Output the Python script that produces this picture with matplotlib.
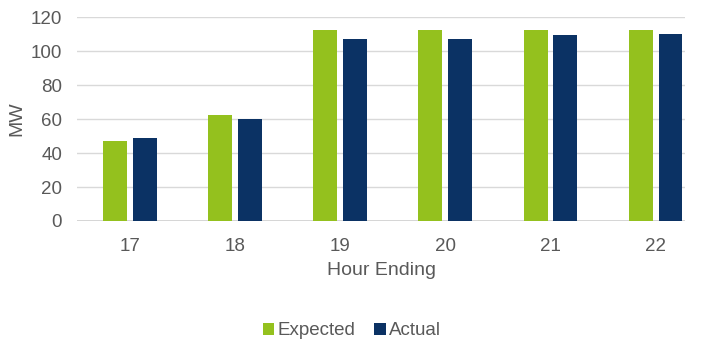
import matplotlib
matplotlib.use("Agg")
import matplotlib.pyplot as plt
import numpy as np

hours = ["17", "18", "19", "20", "21", "22"]
expected = [47, 62.5, 112.5, 112.5, 112.5, 112.5]
actual = [49, 60, 107, 107, 109.5, 110.3]
yticks = [0, 20, 40, 60, 80, 100, 120]

plt.rcParams['font.family'] = ['Liberation Sans', 'DejaVu Sans']
gray = '#595959'

fig = plt.figure(figsize=(7.04, 3.43), dpi=100)
ax = fig.add_axes([0.110, 0.3557, 0.863, 0.5939])

x = np.arange(len(hours))
w = 0.228
off = 0.142
ax.bar(x - off, expected, width=w, color='#94C11E', label='Expected', zorder=3)
ax.bar(x + off, actual, width=w, color='#0B3264', label='Actual', zorder=3)

ax.set_xlim(-0.5, 5.28)
ax.set_ylim(0, 120)
ax.set_yticks(yticks)
ax.set_xticks(x)
ax.set_xticklabels(hours)
ax.grid(axis='y', color='#D9D9D9', linewidth=1, zorder=0)
ax.set_axisbelow(True)
for s in ax.spines.values():
    s.set_visible(False)
ax.axhline(0, color='#D0D0D0', linewidth=1.2, zorder=2)
ax.tick_params(axis='both', length=0, labelsize=13.5, colors=gray)
ax.tick_params(axis='y', pad=11)
ax.tick_params(axis='x', pad=12)
ax.set_xlabel('Hour Ending', fontsize=14, color=gray, labelpad=5)
ax.set_ylabel('MW', fontsize=14, color=gray, labelpad=4)

fig.legend(loc='center', bbox_to_anchor=(0.5, 0.035), ncol=2, frameon=False,
           fontsize=13.5, labelcolor=gray, handlelength=0.6, handleheight=0.6,
           handletextpad=0.2, columnspacing=1.0)

fig.savefig('out.png', dpi=100)
